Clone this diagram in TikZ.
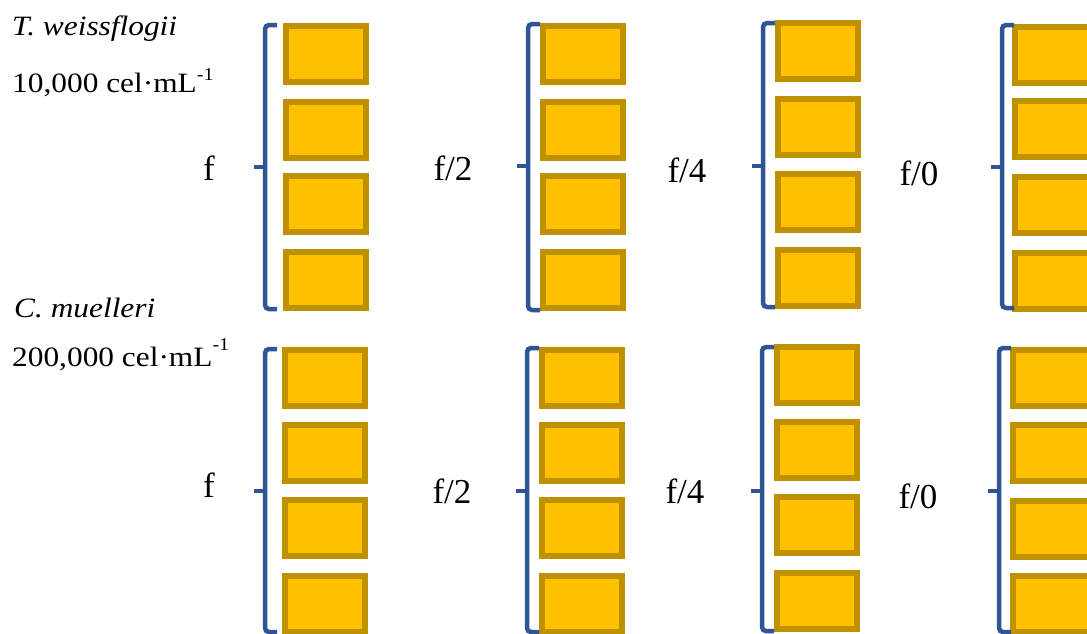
\documentclass[tikz,border=0pt]{standalone}
\usepackage{fontspec}
\setmainfont{Liberation Serif}
\newfontfamily\widefont[FakeStretch=1.12]{Liberation Serif}
\definecolor{boxedge}{HTML}{BF9000}
\definecolor{boxfill}{HTML}{FFC000}
\definecolor{brkblue}{HTML}{2F5597}
\newcommand\bracketat[4]{%
  \draw[brk] (#1+12,#2) -- (#1,#2) -- (#1,#3) -- (#1+12,#3);
  \draw[brk,rounded corners=0pt] (#1,#4) -- (#1-11,#4);}
\begin{document}
\begin{tikzpicture}[x=1pt,y=-1pt,
  cell/.style={draw=boxedge, fill=boxfill, line width=6pt, minimum width=80pt,
    minimum height=56pt, inner sep=0pt, outer sep=0pt},
  brk/.style={draw=brkblue, line width=4.5pt, rounded corners=4pt},
  lab/.style={font=\fontsize{35}{35}\selectfont, inner sep=0pt, anchor=base},
  sp/.style={font=\widefont\fontsize{28}{28}\selectfont, inner sep=0pt, anchor=base west}]
\clip (0,0) rectangle (1087,633);
\fill[white] (0,0) rectangle (1087,633);
% top row boxes
\foreach \t [count=\i] in {23,99,173,249} \node[cell] (Ta\i) at (326,\t+31) {};
\foreach \t [count=\i] in {23,99,173,249} \node[cell] (Tb\i) at (583,\t+31) {};
\foreach \t [count=\i] in {20,96,171,247} \node[cell] (Tc\i) at (818,\t+31) {};
\foreach \t [count=\i] in {24,98,174,250} \node[cell] (Td\i) at (1055,\t+31) {};
% bottom row boxes
\foreach \t [count=\i] in {347,422,497,573} \node[cell] (Ba\i) at (325,\t+31) {};
\foreach \t [count=\i] in {347,422,497,573} \node[cell] (Bb\i) at (582,\t+31) {};
\foreach \t [count=\i] in {344,419,494,570} \node[cell] (Bc\i) at (817,\t+31) {};
\foreach \t [count=\i] in {347,422,498,573} \node[cell] (Bd\i) at (1053,\t+31) {};
% brackets
\bracketat{265}{25}{309}{167}
\bracketat{528}{24}{310}{166}
\bracketat{763}{23}{307}{166}
\bracketat{1002}{25}{308}{167}
\bracketat{265}{349}{632}{491}
\bracketat{527}{348}{632}{491}
\bracketat{762}{347}{631}{491}
\bracketat{999}{348}{632}{491}
% labels
\node[lab] (Tl1) at (209,180) {f};
\node[lab] (Tl2) at (453,180) {f/2};
\node[lab] (Tl3) at (687,182) {f/4};
\node[lab] (Tl4) at (919,185) {f/0};
\node[lab] (Bl1) at (209,497) {f};
\node[lab] (Bl2) at (452,503) {f/2};
\node[lab] (Bl3) at (685,503) {f/4};
\node[lab] (Bl4) at (918,508) {f/0};
% species
\node[sp] (sp1) at (12,35) {\textit{T. weissflogii}};
\node[sp] (cn1) at (12,92) {10,000 cel·mL\raisebox{12pt}{\fontsize{18}{18}\selectfont -1}};
\node[sp] (sp2) at (14,317) {\textit{C. muelleri}};
\node[sp] (cn2) at (12,366) {200,000 cel·mL\raisebox{16pt}{\fontsize{18}{18}\selectfont -1}};
\end{tikzpicture}
\end{document}
